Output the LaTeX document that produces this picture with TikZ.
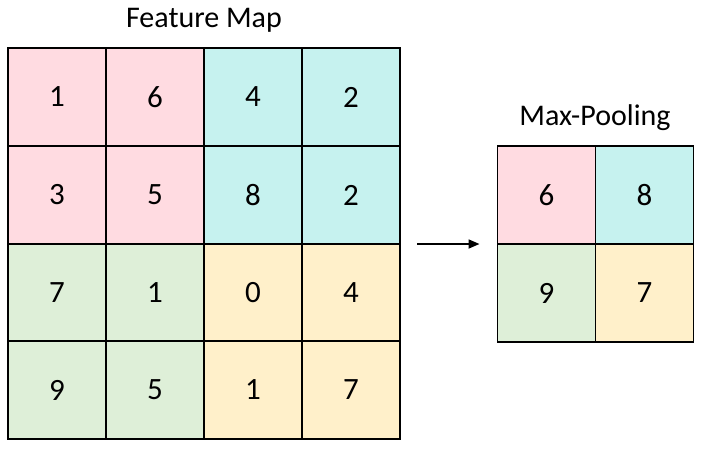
\documentclass[tikz,border=0pt]{standalone}
\usepackage{fontspec}
\setmainfont{Carlito}
\usetikzlibrary{arrows.meta}

\definecolor{poolpink}{HTML}{FFDBE1}
\definecolor{poolcyan}{HTML}{C6F2EF}
\definecolor{poolgreen}{HTML}{DEEFD8}
\definecolor{poolyellow}{HTML}{FFF0CA}

\tikzset{
  cell/.style={draw,line width=1.9pt,minimum size=98pt,inner sep=0pt,
    outer sep=0pt,font=\fontsize{31}{31}\selectfont},
  title/.style={font=\fontsize{30}{30}\selectfont}
}

\begin{document}
\begin{tikzpicture}[x=1pt,y=-1pt]
  \useasboundingbox (0,0) rectangle (703,450);

  % feature map, 4x4
  \foreach \r/\y in {1/97,2/195,3/293,4/390}{
    \foreach \c/\x in {1/57,2/155,3/253,4/351}{
      \pgfmathsetmacro{\q}{(\r>2)*2+(\c>2)}
      \ifcase\q\relax
        \def\fillc{poolpink}\or\def\fillc{poolcyan}\or
        \def\fillc{poolgreen}\or\def\fillc{poolyellow}\fi
      \node[cell,fill=\fillc] (f\r\c) at (\x,\y) {};
    }
  }
  \foreach \n/\v in {f11/1,f12/6,f13/4,f14/2,
                     f21/3,f22/5,f23/8,f24/2,
                     f31/7,f32/1,f33/0,f34/4,
                     f41/9,f42/5,f43/1,f44/7}
    \node[font=\fontsize{31}{31}\selectfont] at (\n) {\v};

  % pooled output, 2x2
  \node[cell,fill=poolpink]   (p11) at (546.5,195) {6};
  \node[cell,fill=poolcyan]   (p12) at (644.5,195) {8};
  \node[cell,fill=poolgreen]  (p21) at (546.5,293) {9};
  \node[cell,fill=poolyellow] (p22) at (644.5,293) {7};

  \node[title] (fmap) at (204,20) {Feature Map};
  \node[title] (pool) at (595,118) {Max-Pooling};

  \draw[line width=1.7pt,-{Triangle[length=11pt,width=9pt]},
        shorten <=17pt,shorten >=18pt] (f24.south east) -- (p21.north west);
\end{tikzpicture}
\end{document}
